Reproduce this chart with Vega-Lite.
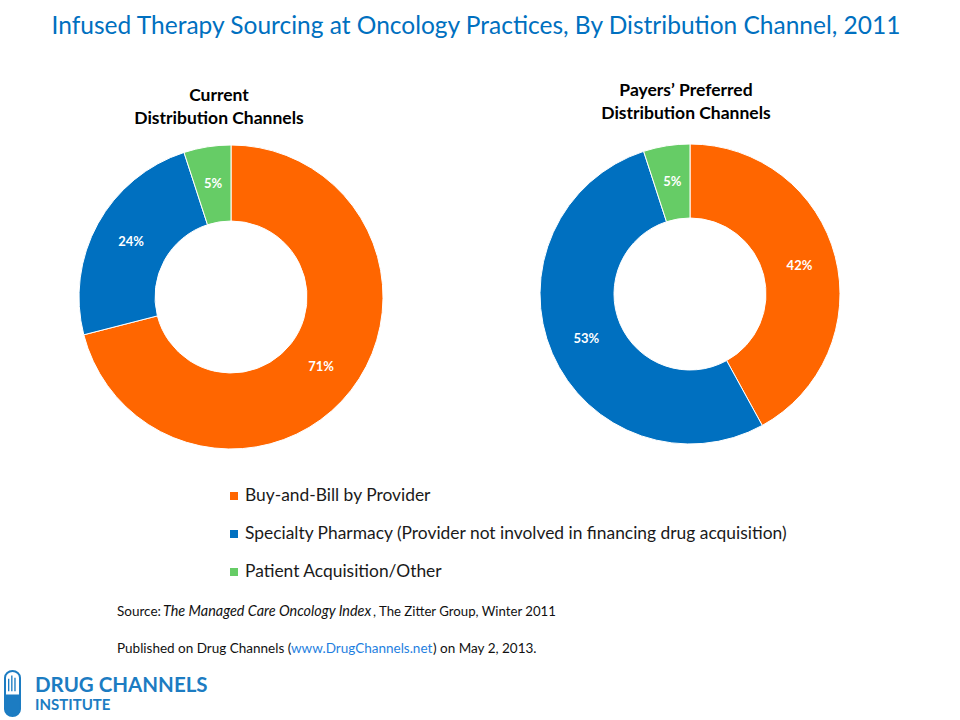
{
  "$schema": "https://vega.github.io/schema/vega-lite/v6.json",
  "background": "white",
  "padding": {"left": 0, "top": 14, "right": 42, "bottom": 0},
  "title": {
    "text": "Infused Therapy Sourcing at Oncology Practices, By Distribution Channel, 2011",
    "font": "Lato", "fontSize": 24.5, "fontWeight": "normal", "color": "#0070C0",
    "anchor": "middle", "baseline": "top", "dx": 17, "offset": 42
  },
  "config": {"view": {"stroke": null}, "font": "Lato"},
  "spacing": 0,
  "vconcat": [
    {
      "spacing": 0,
      "bounds": "flush",
      "hconcat": [
        {
          "width": 462, "height": 312,
          "title": {"text": ["Current", "Distribution Channels"], "font": "Lato", "fontSize": 17.5, "fontWeight": "bold", "color": "#000000", "anchor": "middle", "dx": -12, "offset": 14, "lineHeight": 23},
          "data": {"values": [
            {"channel": "Buy-and-Bill by Provider", "share": 0.71, "k": 1},
            {"channel": "Specialty Pharmacy (Provider not involved in financing drug acquisition)", "share": 0.24, "k": 2},
            {"channel": "Patient Acquisition/Other", "share": 0.05, "k": 3}
          ]},
          "encoding": {
            "theta": {"field": "share", "type": "quantitative", "stack": true},
            "order": {"field": "k", "type": "ordinal"},
            "color": {"field": "channel", "type": "nominal", "legend": null,
              "scale": {"domain": ["Buy-and-Bill by Provider", "Specialty Pharmacy (Provider not involved in financing drug acquisition)", "Patient Acquisition/Other"], "range": ["#FF6600", "#0070C0", "#66CC66"]}}
          },
          "layer": [
            {"mark": {"type": "arc", "outerRadius": 152, "innerRadius": 76, "stroke": "white", "strokeWidth": 1}},
            {"mark": {"type": "text", "radius": 114, "fontSize": 13, "fontWeight": "bold", "font": "Lato"},
             "encoding": {"text": {"field": "share", "type": "quantitative", "format": ".0%"}, "color": {"value": "white"}}}
          ]
        },
        {
          "width": 456, "height": 306,
          "title": {"text": ["Payers’ Preferred", "Distribution Channels"], "font": "Lato", "fontSize": 17.5, "fontWeight": "bold", "color": "#000000", "anchor": "middle", "dx": -4, "offset": 19, "lineHeight": 23},
          "data": {"values": [
            {"channel": "Buy-and-Bill by Provider", "share": 0.42, "k": 1},
            {"channel": "Specialty Pharmacy (Provider not involved in financing drug acquisition)", "share": 0.53, "k": 2},
            {"channel": "Patient Acquisition/Other", "share": 0.05, "k": 3}
          ]},
          "encoding": {
            "theta": {"field": "share", "type": "quantitative", "stack": true},
            "order": {"field": "k", "type": "ordinal"},
            "color": {"field": "channel", "type": "nominal", "legend": null,
              "scale": {"domain": ["Buy-and-Bill by Provider", "Specialty Pharmacy (Provider not involved in financing drug acquisition)", "Patient Acquisition/Other"], "range": ["#FF6600", "#0070C0", "#66CC66"]}}
          },
          "layer": [
            {"mark": {"type": "arc", "outerRadius": 150, "innerRadius": 76, "stroke": "white", "strokeWidth": 1}},
            {"mark": {"type": "text", "radius": 113, "fontSize": 13, "fontWeight": "bold", "font": "Lato"},
             "encoding": {"text": {"field": "share", "type": "quantitative", "format": ".0%"}, "color": {"value": "white"}}}
          ]
        }
      ]
    },
    {
      "width": 468, "height": 140,
      "data": {"values": [
        {"channel": "Buy-and-Bill by Provider"},
        {"channel": "Specialty Pharmacy (Provider not involved in financing drug acquisition)"},
        {"channel": "Patient Acquisition/Other"}
      ]},
      "encoding": {
        "y": {"field": "channel", "type": "nominal", "axis": null,
          "scale": {"type": "point", "domain": ["Buy-and-Bill by Provider", "Specialty Pharmacy (Provider not involved in financing drug acquisition)", "Patient Acquisition/Other"], "padding": 0.842, "align": 0.672}}
      },
      "layer": [
        {"mark": {"type": "point", "shape": "square", "filled": true, "size": 64, "opacity": 1},
         "encoding": {"color": {"field": "channel", "type": "nominal", "legend": null,
           "scale": {"domain": ["Buy-and-Bill by Provider", "Specialty Pharmacy (Provider not involved in financing drug acquisition)", "Patient Acquisition/Other"], "range": ["#FF6600", "#0070C0", "#66CC66"]}}}},
        {"mark": {"type": "text", "align": "left", "baseline": "middle", "dx": 11, "fontSize": 17.4, "font": "Lato", "color": "#1a1a1a"},
         "encoding": {"text": {"field": "channel", "type": "nominal"}}}
      ]
    },
    {
      "width": 234, "height": 124,
      "encoding": {
        "y": {"field": "line", "type": "nominal", "axis": null,
          "scale": {"type": "point", "domain": ["source", "published", "logo"], "padding": 0.676, "align": 0.38}}
      },
      "layer": [
        {"data": {"values": [{"line": "source", "text": "Source: "}]},
         "mark": {"type": "text", "align": "left", "baseline": "middle", "fontSize": 13.5, "font": "Lato", "color": "#111111"},
         "encoding": {"text": {"field": "text", "type": "nominal"}}},
        {"data": {"values": [{"line": "source", "text": "The Managed Care Oncology Index"}]},
         "mark": {"type": "text", "align": "left", "baseline": "middle", "fontSize": 14.4, "font": "Lato", "fontStyle": "italic", "color": "#111111", "dx": 46},
         "encoding": {"text": {"field": "text", "type": "nominal"}}},
        {"data": {"values": [{"line": "source", "text": ", The Zitter Group, Winter 2011"}]},
         "mark": {"type": "text", "align": "left", "baseline": "middle", "fontSize": 13.2, "font": "Lato", "color": "#111111", "dx": 256},
         "encoding": {"text": {"field": "text", "type": "nominal"}}},
        {"data": {"values": [{"line": "published", "text": "Published on Drug Channels ("}]},
         "mark": {"type": "text", "align": "left", "baseline": "middle", "fontSize": 13.5, "font": "Lato", "color": "#111111"},
         "encoding": {"text": {"field": "text", "type": "nominal"}}},
        {"data": {"values": [{"line": "published", "text": "www.DrugChannels.net"}]},
         "mark": {"type": "text", "align": "left", "baseline": "middle", "fontSize": 13.5, "font": "Lato", "color": "#1F7FE0", "dx": 174},
         "encoding": {"text": {"field": "text", "type": "nominal"}}},
        {"data": {"values": [{"line": "published", "text": ") on May 2,  2013."}]},
         "mark": {"type": "text", "align": "left", "baseline": "middle", "fontSize": 13.5, "font": "Lato", "color": "#111111", "dx": 316},
         "encoding": {"text": {"field": "text", "type": "nominal"}}},
        {"data": {"values": [{"line": "logo", "text": "DRUG CHANNELS"}]},
         "mark": {"type": "text", "align": "left", "baseline": "middle", "fontSize": 20.5, "fontWeight": "bold", "font": "Lato", "color": "#1C7CC2", "dx": -82},
         "encoding": {"text": {"field": "text", "type": "nominal"}}},
        {"data": {"values": [{"line": "logo", "text": "INSTITUTE"}]},
         "mark": {"type": "text", "align": "left", "baseline": "middle", "fontSize": 15, "fontWeight": "bold", "font": "Lato", "color": "#1C7CC2", "dx": -82, "dy": 19},
         "encoding": {"text": {"field": "text", "type": "nominal"}}},
        {"data": {"values": [{"line": "logo"}]},
         "mark": {"type": "point", "shape": "M-0.333,-0.7 A0.333,0.3 0 0 1 0.333,-0.7 L0.333,0.7 A0.333,0.3 0 0 1 -0.333,0.7 Z", "size": 2025, "filled": true, "fill": "white", "stroke": "#1C7CC2", "strokeWidth": 2, "opacity": 1, "xOffset": -104.5, "yOffset": 7.5}},
        {"data": {"values": [{"line": "logo"}]},
         "mark": {"type": "point", "shape": "M-0.333,0.05 L0.333,0.05 L0.333,0.7 A0.333,0.3 0 0 1 -0.333,0.7 Z M-0.2,-0.65 L-0.14,-0.65 L-0.14,-0.1 L-0.2,-0.1 Z M-0.06,-0.8 L0,-0.8 L0,-0.1 L-0.06,-0.1 Z M0.08,-0.7 L0.14,-0.7 L0.14,-0.1 L0.08,-0.1 Z", "size": 2025, "filled": true, "fill": "#1C7CC2", "strokeWidth": 0, "opacity": 1, "xOffset": -104.5, "yOffset": 7.5}}
      ]
    }
  ]
}
